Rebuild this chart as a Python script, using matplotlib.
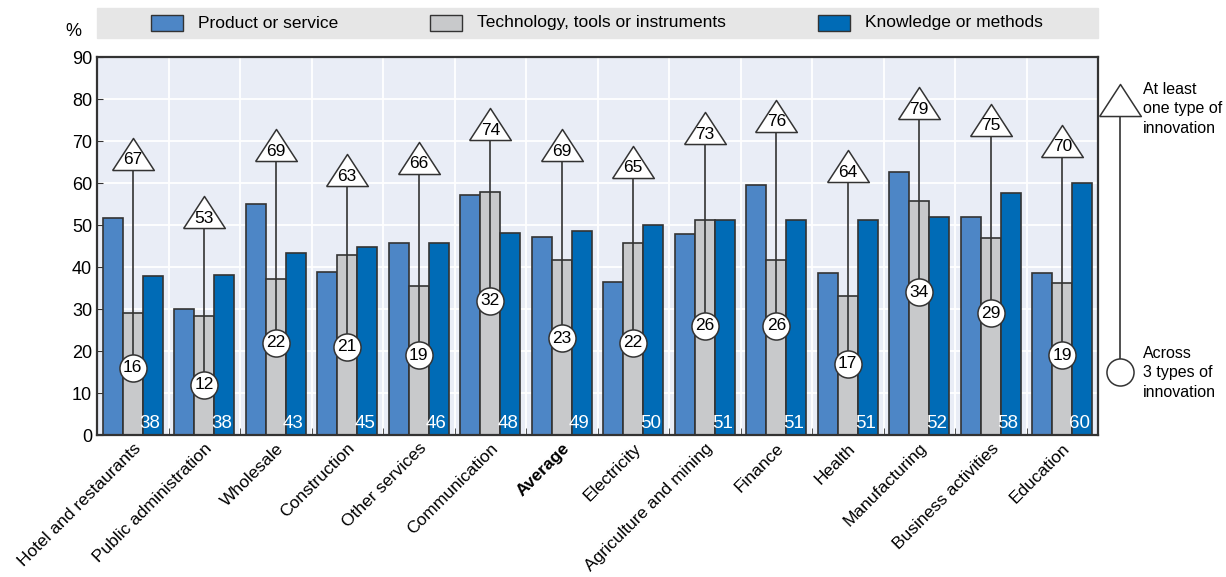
import numpy as np
import matplotlib.pyplot as plt
from matplotlib.patches import Rectangle

plt.rcParams['font.family'] = ['Liberation Sans Narrow', 'Liberation Sans', 'DejaVu Sans']

categories = ['Hotel and restaurants', 'Public administration', 'Wholesale', 'Construction',
              'Other services', 'Communication', 'Average', 'Electricity',
              'Agriculture and mining', 'Finance', 'Health', 'Manufacturing',
              'Business activities', 'Education']
product = [51.6, 30.0, 55.0, 38.8, 45.7, 57.2, 47.2, 36.5, 47.9, 59.5, 38.6, 62.6, 52.0, 38.5]
technology = [29.0, 28.3, 37.2, 42.8, 35.5, 57.9, 41.6, 45.6, 51.2, 41.7, 33.0, 55.7, 47.0, 36.3]
knowledge = [37.8, 38.2, 43.4, 44.8, 45.7, 48.2, 48.6, 49.9, 51.1, 51.3, 51.3, 51.8, 57.7, 60.0]
at_least_one = [67, 53, 69, 63, 66, 74, 69, 65, 73, 76, 64, 79, 75, 70]
all_three = [16, 12, 22, 21, 19, 32, 23, 22, 26, 26, 17, 34, 29, 19]

c_prod = '#4D86C6'
c_tech = '#C8C9CB'
c_know = '#006BB6'
edge = '#333333'

W, H = 1226, 577
fig = plt.figure(figsize=(W / 100, H / 100), dpi=100)
ax = fig.add_axes([97 / W, 1 - 435 / H, (1098 - 97) / W, (435 - 57) / H])
ax.set_facecolor('#E9EDF6')

x = np.arange(len(categories))
bw = 0.28
ax.bar(x - bw, product, bw, color=c_prod, edgecolor=edge, linewidth=1.2, zorder=2)
ax.bar(x, technology, bw, color=c_tech, edgecolor=edge, linewidth=1.2, zorder=2)
ax.bar(x + bw, knowledge, bw, color=c_know, edgecolor=edge, linewidth=1.2, zorder=2)

for xi, v in zip(x, knowledge):
    ax.text(xi + bw * 1.5 - 0.03, 0.6, f'{round(v)}', color='white', fontsize=13.5,
            ha='right', va='bottom', zorder=3)

tri = [(-1.3, -1), (1.3, -1), (0, 1), (-1.3, -1)]
for xi, top, low in zip(x, at_least_one, all_three):
    ax.plot([xi, xi], [low, top], color=edge, lw=1.2, zorder=3)
    ax.plot(xi, top, marker=tri, ms=30, mfc='white', mec=edge, mew=1.1, zorder=4)
    ax.text(xi, top - 1.4, f'{top}', ha='center', va='center', fontsize=12.5, zorder=5)
    ax.plot(xi, low, marker='o', ms=19.5, mfc='white', mec=edge, mew=1.1, zorder=4)
    ax.text(xi, low, f'{low}', ha='center', va='center', fontsize=12.5, zorder=5)

ax.set_xlim(-0.5, len(categories) - 0.5)
ax.set_ylim(0, 90)
ax.set_yticks(range(0, 91, 10))
ax.tick_params(axis='y', direction='in', length=4, labelsize=13, color=edge)
ax.set_xticks(x)
ax.set_xticklabels(categories, rotation=45, ha='right', va='top',
                   rotation_mode='anchor', fontsize=12.5)
ax.get_xticklabels()[6].set_fontweight('bold')
ax.tick_params(axis='x', length=0, pad=4)
ax.set_xticks(np.arange(0.5, len(categories) - 1, 1), minor=True)
ax.tick_params(axis='x', which='minor', direction='in', length=5, color=edge)
ax.grid(axis='y', color='white', lw=1.3, zorder=0)
ax.grid(axis='x', which='minor', color='white', lw=1.3, zorder=0)
ax.set_axisbelow(True)
for s in ax.spines.values():
    s.set_color(edge)
    s.set_linewidth(1.6)

# overlay in pixel coordinates for legends
ov = fig.add_axes([0, 0, 1, 1], zorder=-1)
ov.set_xlim(0, W)
ov.set_ylim(H, 0)
ov.axis('off')
ov.add_patch(Rectangle((97, 8), 1001, 30, color='#E6E6E6', zorder=1))
legend_items = [(151, c_prod, 'Product or service'),
                (430, c_tech, 'Technology, tools or instruments'),
                (818, c_know, 'Knowledge or methods')]
for lx, col, lab in legend_items:
    ov.add_patch(Rectangle((lx, 15), 32, 16, facecolor=col, edgecolor=edge, lw=1, zorder=2))
    ov.text(lx + 47, 23, lab, fontsize=12.5, va='center', ha='left', zorder=3)
ov.text(73, 31, '%', fontsize=13, ha='center', va='center')

ov2 = fig.add_axes([0, 0, 1, 1], zorder=5)
ov2.set_xlim(0, W)
ov2.set_ylim(H, 0)
ov2.axis('off')
ov2.plot([1120, 1120], [100, 372], color=edge, lw=1.2)
ov2.plot(1120, 100, marker=tri, ms=30, mfc='white', mec=edge, mew=1.1)
ov2.plot(1120, 372, marker='o', ms=19.5, mfc='white', mec=edge, mew=1.1)
ov2.text(1143, 109, 'At least\none type of\ninnovation', fontsize=11.5, va='center', ha='left',
         linespacing=1.35)
ov2.text(1143, 373, 'Across\n3 types of\ninnovation', fontsize=11.5, va='center', ha='left',
         linespacing=1.35)

fig.savefig('out.png', dpi=100)
